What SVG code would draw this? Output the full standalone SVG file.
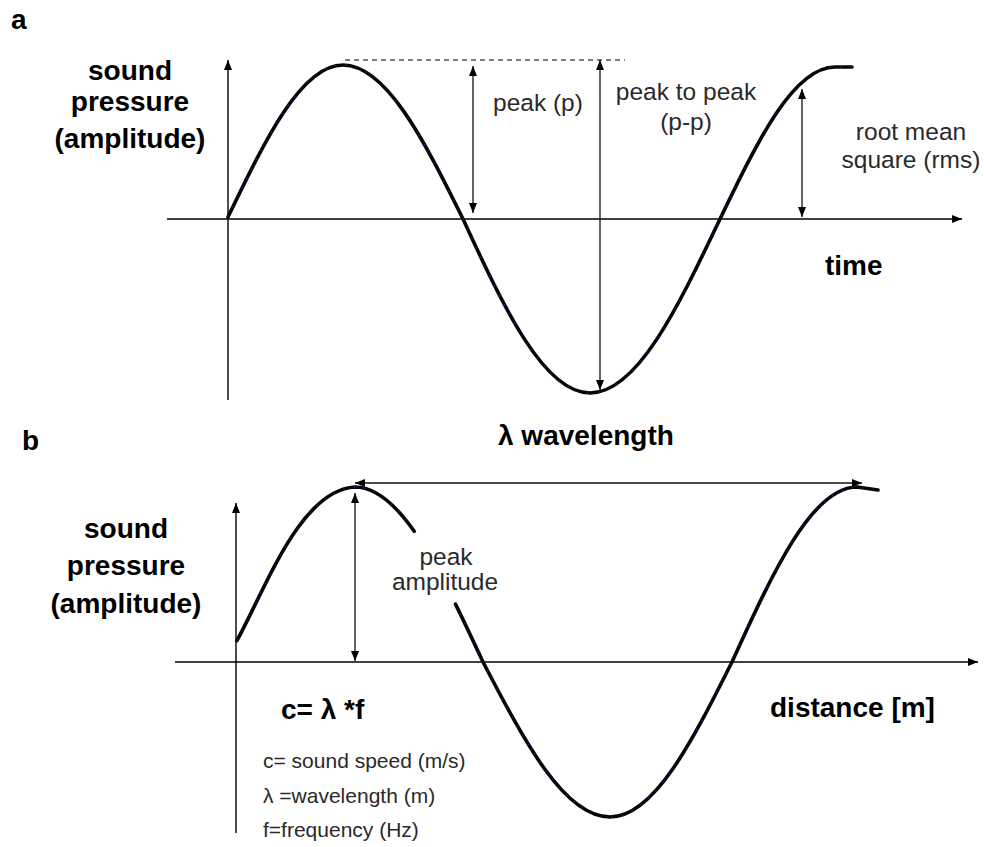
<svg xmlns="http://www.w3.org/2000/svg" width="984" height="847" viewBox="0 0 984 847">
<style>
.bg{fill:#fff}
.ax{stroke:#000;stroke-width:1.4;fill:none}
.dim{stroke:#111;stroke-width:1.3;fill:none;marker-start:url(#ah);marker-end:url(#ah)}
.one{stroke:#000;stroke-width:1.4;fill:none;marker-end:url(#ah)}
.dash{stroke:#555;stroke-width:1.3;stroke-dasharray:5 4;fill:none}
.wave{stroke:#050505;stroke-width:3.6;fill:none;stroke-linecap:round;stroke-linejoin:round}
.dots{stroke:#1a1a90;stroke-width:1.4;fill:none;stroke-dasharray:1.5 9}
.big{font-family:"Liberation Sans",Arial,sans-serif;font-weight:bold;font-size:28px;fill:#000}
.lbl{font-family:"Liberation Sans",Arial,sans-serif;font-size:24.5px;fill:#2a2a2a}
.sm{font-family:"Liberation Sans",Arial,sans-serif;font-size:21px;fill:#2a2a2a}
.mid{text-anchor:middle}
</style>
<defs>
<marker id="ah" markerUnits="userSpaceOnUse" markerWidth="10" markerHeight="8" refX="10" refY="4" orient="auto-start-reverse">
<path d="M0,0 L10,4 L0,8 z" fill="#000"/>
</marker>
</defs>
<rect class="bg" x="0" y="0" width="984" height="847"/>

<g id="panel-a">
  <text id="label-a" class="big" x="11" y="29">a</text>
  <g id="axes-a">
    <line class="one" x1="167" y1="219" x2="962" y2="219"/>
    <line class="one" x1="228" y1="400" x2="228" y2="60"/>
  </g>
  <g id="wave-a">
    <path id="wave-a-path" class="wave" d="M228,217 C265.5,139 301.5,65 343,65 C386,65 424,140 463,219 C504,308 544,393 590,393 C637,393 677.6,308 720,219 C757.5,141 793.5,67 835,67 L852,67"/>
    <path class="dots" d="M228,217 C265.5,139 301.5,65 343,65 C386,65 424,140 463,219 C504,308 544,393 590,393 C637,393 677.6,308 720,219 C757.5,141 793.5,67 835,67 L852,67"/>
  </g>
  <g id="ylabel-a" class="big mid">
    <text x="130" y="80">sound</text>
    <text x="130" y="111">pressure</text>
    <text x="130" y="148">(amplitude)</text>
  </g>
  <text id="time-label" class="big" x="825" y="275">time</text>
  <g id="peak-label"><text class="lbl" x="493" y="111">peak (p)</text></g>
  <g id="p2p-label" class="lbl mid">
    <text x="686" y="100">peak to peak</text>
    <text x="686" y="130">(p-p)</text>
  </g>
  <g id="rms-label" class="lbl mid">
    <text x="911" y="140">root mean</text>
    <text x="911" y="168">square (rms)</text>
  </g>
</g>

<g id="panel-b">
  <text id="label-b" class="big" x="22" y="450">b</text>
  <g id="axes-b">
    <line class="one" x1="175" y1="662" x2="978" y2="662"/>
    <line class="one" x1="236" y1="833" x2="236" y2="503"/>
  </g>
  <g id="wave-b">
    <path class="wave" d="M236.9,640.6 C265,590 300,490 355,487 C375.7,487 395.2,504.2 414.2,531.3"/>
    <path class="wave" d="M455.5,604.1 C464.6,622.6 473.8,642.2 483,662 C524.4,741.4 564.2,817 610,817 C654,817 692.2,741.4 732,662 C772.8,572.4 811.9,487 857,487 L878,490"/>
    <path class="dots" d="M236.9,640.6 C265,590 300,490 355,487 C375.7,487 395.2,504.2 414.2,531.3"/>
    <path class="dots" d="M455.5,604.1 C464.6,622.6 473.8,642.2 483,662 C524.4,741.4 564.2,817 610,817 C654,817 692.2,741.4 732,662 C772.8,572.4 811.9,487 857,487 L878,490"/>
  </g>
  <g id="ylabel-b" class="big mid">
    <text x="126" y="538">sound</text>
    <text x="126" y="575">pressure</text>
    <text x="126" y="613">(amplitude)</text>
  </g>
  <text id="wavelength-label" class="big" x="498" y="445">λ wavelength</text>
  <g id="peak-amp-label" class="lbl mid">
    <text x="446" y="565">peak</text>
    <text x="445" y="590">amplitude</text>
  </g>
  <text id="formula" class="big" x="281" y="719">c= λ *f</text>
  <text id="distance-label" class="big" x="770" y="717">distance [m]</text>
  <g id="legend" class="sm">
    <text x="263" y="768">c= sound speed (m/s)</text>
    <text x="263" y="803">λ =wavelength (m)</text>
    <text x="263" y="837">f=frequency (Hz)</text>
  </g>
</g>

<g id="connectors">
  <line class="dash" x1="345" y1="60" x2="625" y2="60"/>
  <line id="arrow-peak" class="dim" x1="473" y1="66" x2="473" y2="213"/>
  <line id="arrow-p2p" class="dim" x1="600" y1="60" x2="600" y2="390"/>
  <line id="arrow-rms" class="dim" x1="802" y1="89" x2="802" y2="217"/>
  <line id="arrow-wavelength" class="dim" x1="355" y1="483" x2="862" y2="483"/>
  <line id="arrow-peak-amp" class="dim" x1="355" y1="493" x2="355" y2="661"/>
</g>
</svg>
